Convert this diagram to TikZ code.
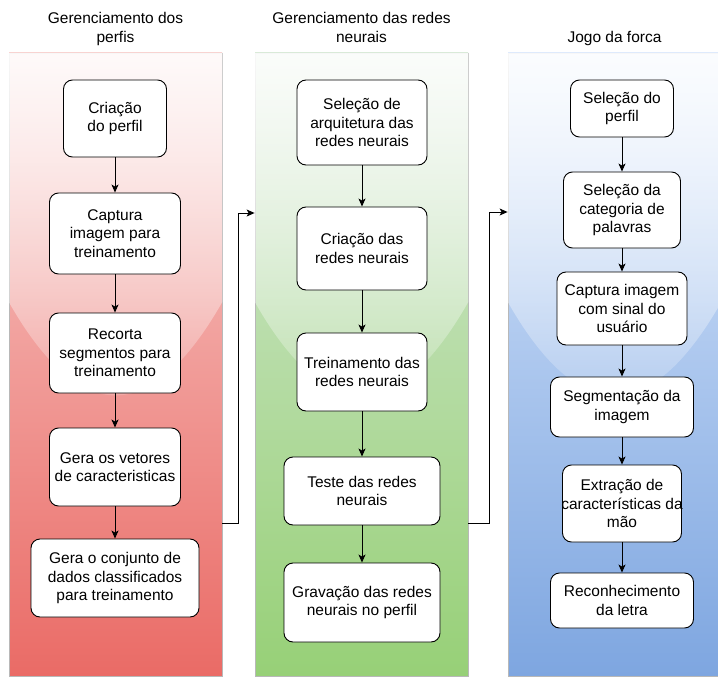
\documentclass[tikz,border=0pt]{standalone}
\usepackage{fontspec}
\setmainfont{Liberation Sans}
\usetikzlibrary{arrows.meta, positioning, calc, fadings}
\definecolor{perfisA}{HTML}{F8CECC}
\definecolor{perfisB}{HTML}{EA6B66}
\definecolor{redesA}{HTML}{D5E8D4}
\definecolor{redesB}{HTML}{97D077}
\definecolor{jogoA}{HTML}{DAE8FC}
\definecolor{jogoB}{HTML}{7EA6E0}
\definecolor{laneline}{HTML}{B8B8B8}
\tikzfading[name=glassfade, top color=transparent!10, bottom color=transparent!90]

\begin{document}
\begin{tikzpicture}[
  x=1pt, y=-1pt,
  lane/.style={rectangle, draw=laneline, line width=0.8pt, top color=#1A, bottom color=#1B, minimum width=213pt, minimum height=623pt, inner sep=0pt},
  lanetitle/.style={align=center, inner sep=0pt, text depth=3.5pt, font=\fontsize{15.5}{18.5}\selectfont},
  glass/.style={fill=white, path fading=glassfade, fit fading=true},
  box/.style={rectangle, rounded corners=9pt, draw=black, fill=white, line width=0.9pt, align=center, inner sep=3pt, font=\fontsize{15.5}{18.5}\selectfont},
  arrow/.style={-{Stealth[length=8pt, width=7pt, inset=2pt]}, line width=0.9pt}
]
  \fill[white] (0,0) rectangle (718,677);
  \useasboundingbox (0,0) rectangle (718,677);

  % Lanes
  \node[lane=perfis] (perfis) at (115.5,364.5) {};
  \node[lane=redes] (redes) at (361.5,364.5) {};
  \node[lane=jogo] (jogo) at (614.5,364.5) {};

  % Glass highlight
  \foreach \l in {perfis,redes,jogo}
    \fill[glass] (\l.north west) -- ++(0,249) .. controls +(71,125) and +(-71,125) .. ([yshift=-249pt]\l.north east) -- (\l.north east) -- cycle;

  % Titles
  \node[lanetitle, above=6.5pt of perfis] {Gerenciamento dos\\perfis};
  \node[lanetitle, above=6.5pt of redes] {Gerenciamento das redes\\neurais};
  \node[lanetitle, above=6.5pt of jogo] {Jogo da forca};

  % Gerenciamento dos perfis
  \node[box, minimum width=103pt, minimum height=77pt] (p1) at (115,118.5) {Criação\\do perfil};
  \node[box, minimum width=131pt, minimum height=81pt] (p2) at (115,233.5) {Captura\\imagem para\\treinamento};
  \node[box, minimum width=131pt, minimum height=80pt] (p3) at (115,353) {Recorta\\segmentos para\\treinamento};
  \node[box, minimum width=131pt, minimum height=78pt] (p4) at (115,467) {Gera os vetores\\de caracteristicas};
  \node[box, minimum width=168pt, minimum height=78pt] (p5) at (115,578) {Gera o conjunto de\\dados classificados\\para treinamento};

  % Gerenciamento das redes neurais
  \node[box, minimum width=130pt, minimum height=85pt] (r1) at (362,122.5) {Seleção de\\arquitetura das\\redes neurais};
  \node[box, minimum width=130pt, minimum height=83pt] (r2) at (362,248.5) {Criação das\\redes neurais};
  \node[box, minimum width=130pt, minimum height=78pt] (r3) at (362,372) {Treinamento das\\redes neurais};
  \node[box, minimum width=156pt, minimum height=68pt] (r4) at (362,491) {Teste das redes\\neurais};
  \node[box, minimum width=156pt, minimum height=79pt] (r5) at (362,602.5) {Gravação das redes\\neurais no perfil};

  % Jogo da forca
  \node[box, minimum width=103pt, minimum height=57pt] (j1) at (622,108.5) {Seleção do\\perfil};
  \node[box, minimum width=117pt, minimum height=76pt] (j2) at (622,210) {Seleção da\\categoria de\\palavras};
  \node[box, minimum width=130pt, minimum height=73pt] (j3) at (622,308.5) {Captura imagem\\com sinal do\\usuário};
  \node[box, minimum width=143pt, minimum height=60pt] (j4) at (622,407) {Segmentação da\\imagem};
  \node[box, minimum width=119pt, minimum height=77pt] (j5) at (622,503.5) {Extração de\\\makebox[0pt]{características da}\\mão};
  \node[box, minimum width=143pt, minimum height=55pt] (j6) at (622,600.5) {Reconhecimento\\da letra};

  % Arrows
  \draw[arrow] (p1) -- (p2);
  \draw[arrow] (p2) -- (p3);
  \draw[arrow] (p3) -- (p4);
  \draw[arrow] (p4) -- (p5);
  \draw[arrow] (r1) -- (r2);
  \draw[arrow] (r2) -- (r3);
  \draw[arrow] (r3) -- (r4);
  \draw[arrow] (r4) -- (r5);
  \draw[arrow] (j1) -- (j2);
  \draw[arrow] (j2) -- (j3);
  \draw[arrow] (j3) -- (j4);
  \draw[arrow] (j4) -- (j5);
  \draw[arrow] (j5) -- (j6);

  % Lane to lane
  \coordinate (bend1) at (238,213);
  \coordinate (bend2) at (489,212);
  \draw[arrow] (perfis.east |- 0,523) -| (bend1) -- (redes.west |- bend1);
  \draw[arrow] (redes.east |- 0,523) -| (bend2) -- (jogo.west |- bend2);
\end{tikzpicture}
\end{document}
